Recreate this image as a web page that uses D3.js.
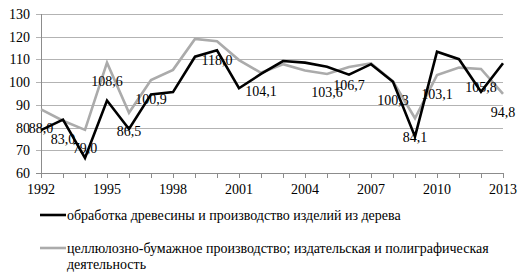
<!DOCTYPE html>
<html><head><meta charset="utf-8">
<script src="https://cdn.jsdelivr.net/npm/d3@7"></script>
<style>
html,body{margin:0;padding:0;background:#fff;}
svg{display:block;}
text{font-family:"Liberation Serif","Times New Roman",serif;fill:#000;}
</style></head>
<body>
<svg id="chart" width="531" height="272"></svg>
<script>
const years = d3.range(1992, 2014);
const woodSeries = [78.9, 83.5, 66.6, 91.9, 79.4, 94.6, 95.6, 111.2, 114.0, 97.3, 103.6, 109.3, 108.6, 106.8, 103.3, 107.9, 100.2, 76.0, 113.4, 110.1, 95.8, 108.3];
const paperSeries = [88.0, 83.0, 79.0, 108.6, 86.5, 100.9, 105.4, 119.0, 118.0, 109.7, 104.1, 107.9, 105.1, 103.6, 106.7, 108.3, 100.3, 84.1, 103.1, 106.4, 105.8, 94.8];
const labelYears = [1992, 1993, 1994, 1995, 1996, 1997, 2000, 2002, 2005, 2006, 2008, 2009, 2010, 2012, 2013];
const labelTexts = ["88,0", "83,0", "79,0", "108,6", "86,5", "100,9", "118,0", "104,1", "103,6", "106,7", "100,3", "84,1", "103,1", "105,8", "94,8"];
const yTicks = [60, 70, 80, 90, 100, 110, 120, 130];
const xTickLabels = [1992, 1995, 1998, 2001, 2004, 2007, 2010, 2013];
const seriesNames = ["обработка древесины и производство изделий из дерева",
  "целлюлозно-бумажное производство; издательская и полиграфическая деятельность"];

const svg = d3.select("#chart");
const x = d3.scaleLinear().domain([1992, 2013]).range([41, 503]);
const y = d3.scaleLinear().domain([60, 130]).range([173, 14]);
const FS = 14;

// gridlines
svg.append("g").selectAll("line").data(yTicks).join("line")
  .attr("x1", 36).attr("x2", x(2013))
  .attr("y1", d => Math.round(y(d)) + 0.5).attr("y2", d => Math.round(y(d)) + 0.5)
  .attr("stroke", "#b3b3b3").attr("stroke-width", 1);

// y axis line
svg.append("line").attr("x1", 41.5).attr("x2", 41.5).attr("y1", y(130)).attr("y2", y(60))
  .attr("stroke", "#8c8c8c").attr("stroke-width", 1);
// x axis line
svg.append("line").attr("x1", 36).attr("x2", x(2013)).attr("y1", Math.round(y(60)) + 0.5).attr("y2", Math.round(y(60)) + 0.5)
  .attr("stroke", "#8c8c8c").attr("stroke-width", 1);

// x ticks
svg.append("g").selectAll("line").data(years).join("line")
  .attr("x1", d => Math.round(x(d)) + 0.5).attr("x2", d => Math.round(x(d)) + 0.5)
  .attr("y1", y(60)).attr("y2", y(60) + 5)
  .attr("stroke", "#8c8c8c").attr("stroke-width", 1);

// y labels
svg.append("g").selectAll("text").data(yTicks).join("text")
  .attr("x", 30).attr("y", d => y(d) + 5)
  .attr("text-anchor", "end").attr("font-size", FS).text(d => d);

// x labels
svg.append("g").selectAll("text").data(xTickLabels).join("text")
  .attr("x", d => x(d)).attr("y", 194)
  .attr("text-anchor", "middle").attr("font-size", FS).text(d => d);

const line = d3.line().x((d, i) => x(years[i])).y(d => y(d));

svg.append("path").datum(paperSeries).attr("d", line)
  .attr("fill", "none").attr("stroke", "#ababab").attr("stroke-width", 2.6).attr("stroke-linejoin", "miter");
svg.append("path").datum(woodSeries).attr("d", line)
  .attr("fill", "none").attr("stroke", "#000").attr("stroke-width", 2.6).attr("stroke-linejoin", "miter");

// data labels (below gray points)
svg.append("g").selectAll("text").data(labelYears).join("text")
  .attr("x", d => x(d)).attr("y", (d, i) => y(paperSeries[years.indexOf(d)]) + 23.5)
  .attr("text-anchor", "middle").attr("font-size", FS).text((d, i) => labelTexts[i]);

// legend
const lg = svg.append("g");
lg.append("line").attr("x1", 40).attr("x2", 66).attr("y1", 215).attr("y2", 215)
  .attr("stroke", "#000").attr("stroke-width", 2.6);
lg.append("text").attr("x", 67).attr("y", 219.5).attr("font-size", FS).text(seriesNames[0]);
lg.append("line").attr("x1", 40).attr("x2", 66).attr("y1", 248).attr("y2", 248)
  .attr("stroke", "#ababab").attr("stroke-width", 2.6);
const t2 = lg.append("text").attr("x", 67).attr("y", 252.5).attr("font-size", FS);
const words = seriesNames[1].split(" ");
t2.append("tspan").attr("x", 67).attr("dy", 0).text(words.slice(0, -1).join(" "));
t2.append("tspan").attr("x", 67).attr("dy", 16.5).text(words[words.length - 1]);
</script>
</body></html>
